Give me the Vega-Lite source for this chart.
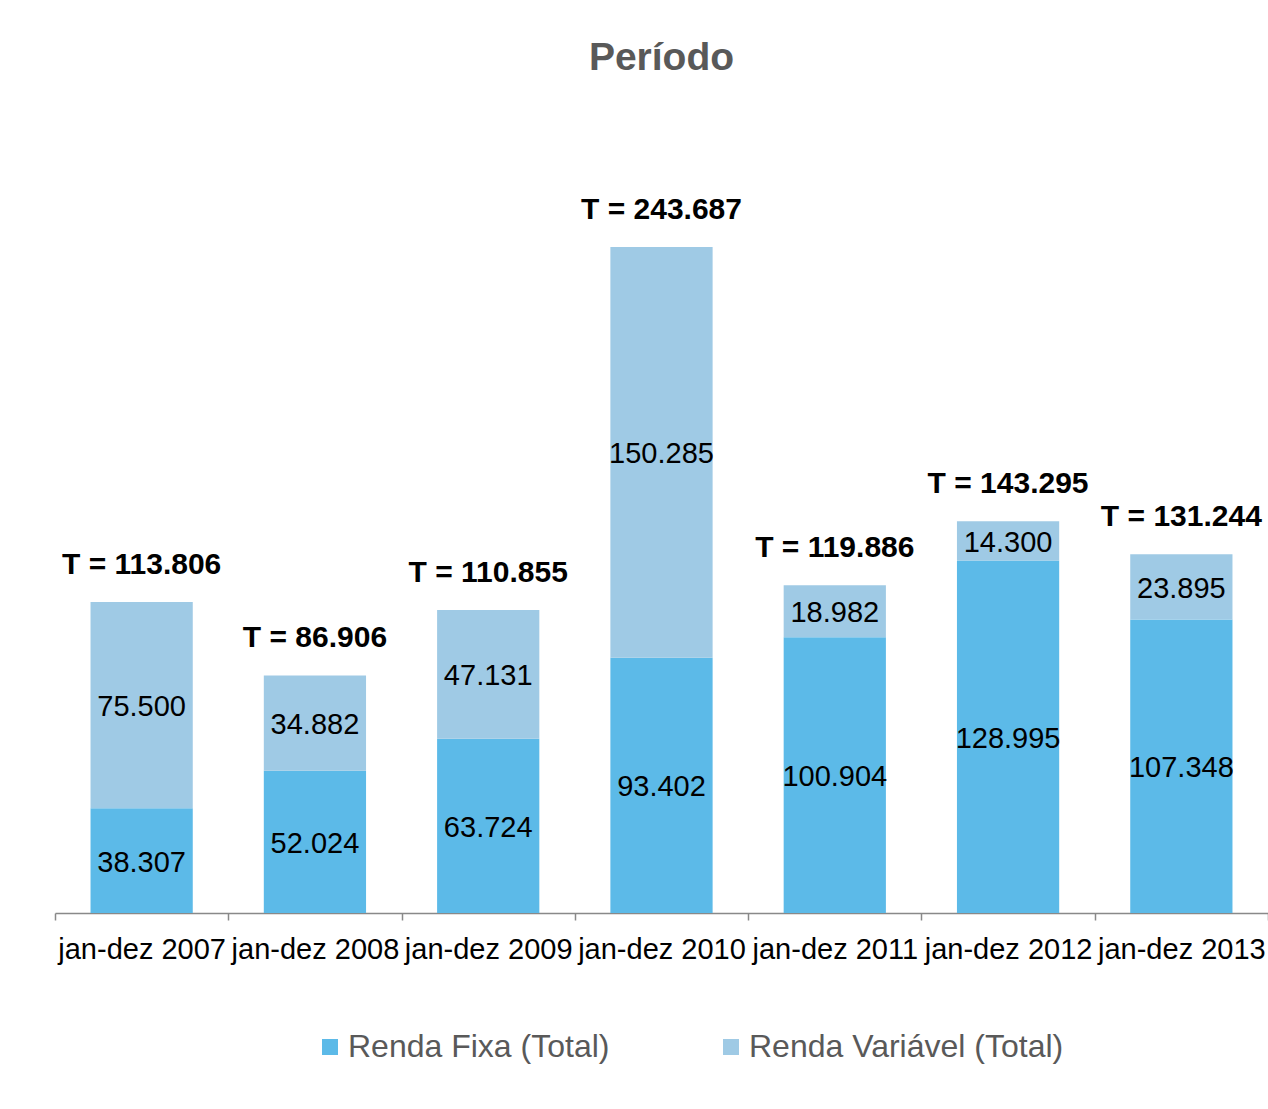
{
  "$schema": "https://vega.github.io/schema/vega-lite/v6.json",
  "width": 1213,
  "height": 820,
  "autosize": {"type": "none"},
  "padding": {"left": 55, "top": 93, "right": 0, "bottom": 196},
  "background": "white",
  "title": {
    "text": "Período",
    "fontSize": 39,
    "font": "Liberation Sans",
    "fontWeight": "bold",
    "color": "#595959",
    "anchor": "middle",
    "offset": 15
  },
  "datasets": {
    "valores": [
      {"periodo": "jan-dez 2007", "serie": "Renda Fixa (Total)", "valor": 38.307},
      {"periodo": "jan-dez 2007", "serie": "Renda Variável (Total)", "valor": 75.5},
      {"periodo": "jan-dez 2008", "serie": "Renda Fixa (Total)", "valor": 52.024},
      {"periodo": "jan-dez 2008", "serie": "Renda Variável (Total)", "valor": 34.882},
      {"periodo": "jan-dez 2009", "serie": "Renda Fixa (Total)", "valor": 63.724},
      {"periodo": "jan-dez 2009", "serie": "Renda Variável (Total)", "valor": 47.131},
      {"periodo": "jan-dez 2010", "serie": "Renda Fixa (Total)", "valor": 93.402},
      {"periodo": "jan-dez 2010", "serie": "Renda Variável (Total)", "valor": 150.285},
      {"periodo": "jan-dez 2011", "serie": "Renda Fixa (Total)", "valor": 100.904},
      {"periodo": "jan-dez 2011", "serie": "Renda Variável (Total)", "valor": 18.982},
      {"periodo": "jan-dez 2012", "serie": "Renda Fixa (Total)", "valor": 128.995},
      {"periodo": "jan-dez 2012", "serie": "Renda Variável (Total)", "valor": 14.3},
      {"periodo": "jan-dez 2013", "serie": "Renda Fixa (Total)", "valor": 107.348},
      {"periodo": "jan-dez 2013", "serie": "Renda Variável (Total)", "valor": 23.895}
    ],
    "totais": [
      {"periodo": "jan-dez 2007", "total": 113.806},
      {"periodo": "jan-dez 2008", "total": 86.906},
      {"periodo": "jan-dez 2009", "total": 110.855},
      {"periodo": "jan-dez 2010", "total": 243.687},
      {"periodo": "jan-dez 2011", "total": 119.886},
      {"periodo": "jan-dez 2012", "total": 143.295},
      {"periodo": "jan-dez 2013", "total": 131.244}
    ]
  },
  "encoding": {
    "x": {
      "field": "periodo",
      "type": "nominal",
      "sort": null,
      "title": null,
      "scale": {"paddingInner": 0, "paddingOuter": 0},
      "axis": {
        "labelAngle": 0,
        "labelFont": "Liberation Sans",
        "labelFontSize": 29,
        "labelColor": "#000000",
        "labelPadding": 15,
        "domainColor": "#898989",
        "domainWidth": 1.5,
        "tickColor": "#898989",
        "tickWidth": 1.5,
        "tickSize": 7,
        "tickBand": "extent",
        "grid": false
      }
    }
  },
  "layer": [
    {
      "data": {"name": "valores"},
      "mark": {"type": "bar", "width": {"band": 0.59}},
      "encoding": {
        "y": {
          "field": "valor",
          "type": "quantitative",
          "stack": "zero",
          "scale": {"domain": [0, 300], "nice": false},
          "axis": null
        },
        "order": {"field": "serie", "sort": "ascending"},
        "color": {
          "field": "serie",
          "type": "nominal",
          "scale": {
            "domain": ["Renda Fixa (Total)", "Renda Variável (Total)"],
            "range": ["#5cbae8", "#9fcae5"]
          },
          "legend": {
            "title": null,
            "orient": "none",
            "legendX": 259,
            "legendY": 938,
            "direction": "horizontal",
            "symbolType": "square",
            "symbolSize": 256,
            "symbolStrokeWidth": 0,
            "labelFont": "Liberation Sans",
            "labelFontSize": 32,
            "labelColor": "#595959",
            "labelOffset": 2,
            "columnPadding": 105,
            "labelLimit": 500
          }
        }
      }
    },
    {
      "data": {"name": "valores"},
      "transform": [
        {"stack": "valor", "groupby": ["periodo"], "sort": [{"field": "serie", "order": "ascending"}], "as": ["v0", "v1"]},
        {"calculate": "(datum.v0 + datum.v1) / 2", "as": "meio"}
      ],
      "mark": {"type": "text", "font": "Liberation Sans", "fontSize": 29, "color": "#000000", "baseline": "middle", "align": "center", "dy": 2},
      "encoding": {
        "y": {"field": "meio", "type": "quantitative"},
        "text": {"field": "valor", "type": "quantitative", "format": ".3f"}
      }
    },
    {
      "data": {"name": "totais"},
      "mark": {"type": "text", "font": "Liberation Sans", "fontSize": 30, "fontWeight": "bold", "color": "#000000", "baseline": "middle", "align": "center", "dy": -37},
      "encoding": {
        "y": {"field": "total", "type": "quantitative"},
        "text": {"field": "rotulo", "type": "nominal"}
      },
      "transform": [
        {"calculate": "'T = ' + format(datum.total, '.3f')", "as": "rotulo"}
      ]
    }
  ],
  "config": {
    "view": {"stroke": null}
  }
}
